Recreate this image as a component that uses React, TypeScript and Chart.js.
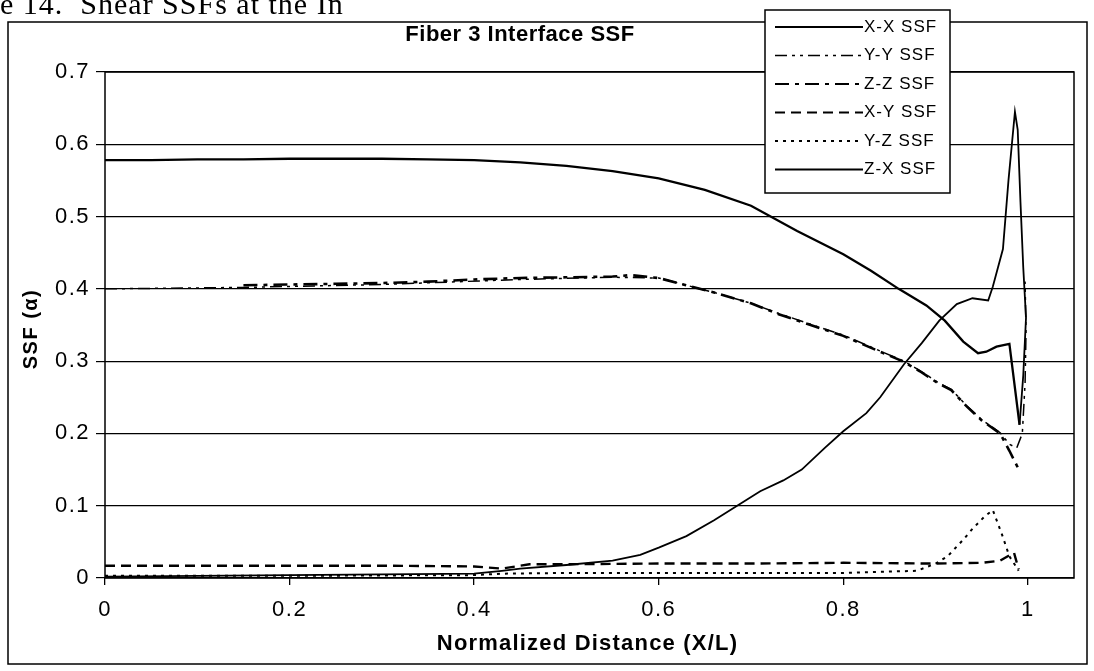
import React, { useEffect, useRef } from 'react';
import { Chart, registerables } from 'chart.js';

Chart.register(...registerables);

// ---- data ----
const seriesNames = ['X-X SSF', 'Y-Y SSF', 'Z-Z SSF', 'X-Y SSF', 'Y-Z SSF', 'Z-X SSF'];
const xTickValues = [0, 0.2, 0.4, 0.6, 0.8, 1];

const xxX = [0, 0.05, 0.1, 0.15, 0.2, 0.25, 0.3, 0.35, 0.4, 0.45, 0.5, 0.55, 0.6, 0.65, 0.7, 0.75, 0.8, 0.83, 0.86, 0.89, 0.91, 0.93, 0.946, 0.955, 0.966, 0.98, 0.991];
const xxY = [0.578, 0.578, 0.579, 0.579, 0.58, 0.58, 0.58, 0.579, 0.578, 0.575, 0.57, 0.563, 0.553, 0.537, 0.515, 0.48, 0.448, 0.425, 0.4, 0.377, 0.356, 0.327, 0.311, 0.313, 0.32, 0.324, 0.212];

const yyX = [0, 0.15, 0.3, 0.45, 0.55, 0.6, 0.63, 0.66, 0.7, 0.73, 0.767, 0.8, 0.84, 0.864, 0.883, 0.902, 0.917, 0.934, 0.95, 0.97, 0.98, 0.988, 0.994, 0.997, 0.998, 0.997];
const yyY = [0.4, 0.402, 0.406, 0.413, 0.416, 0.415, 0.405, 0.395, 0.38, 0.366, 0.35, 0.336, 0.314, 0.301, 0.287, 0.271, 0.261, 0.238, 0.219, 0.201, 0.185, 0.18, 0.2, 0.27, 0.34, 0.41];

const zzX = [0.15, 0.2, 0.25, 0.3, 0.35, 0.4, 0.45, 0.5, 0.55, 0.57, 0.6, 0.63, 0.66, 0.7, 0.73, 0.767, 0.8, 0.84, 0.864, 0.883, 0.902, 0.917, 0.934, 0.95, 0.97, 0.98, 0.991];
const zzY = [0.405, 0.406, 0.407, 0.408, 0.41, 0.413, 0.415, 0.416, 0.417, 0.419, 0.415, 0.405, 0.395, 0.38, 0.365, 0.349, 0.335, 0.313, 0.3, 0.286, 0.27, 0.26, 0.237, 0.218, 0.2, 0.176, 0.148];

const xyX = [0, 0.1, 0.2, 0.3, 0.4, 0.43, 0.46, 0.5, 0.6, 0.7, 0.8, 0.9, 0.95, 0.97, 0.985, 0.99];
const xyY = [0.017, 0.017, 0.017, 0.017, 0.016, 0.013, 0.019, 0.019, 0.02, 0.02, 0.021, 0.02, 0.021, 0.024, 0.035, 0.012];

const yzX = [0, 0.2, 0.4, 0.43, 0.5, 0.6, 0.7, 0.8, 0.88, 0.9, 0.913, 0.93, 0.94, 0.953, 0.962, 0.972, 0.98, 0.99];
const yzY = [0.003, 0.003, 0.004, 0.006, 0.007, 0.007, 0.007, 0.007, 0.01, 0.02, 0.03, 0.053, 0.068, 0.085, 0.094, 0.06, 0.03, 0.01];

const zxX = [0, 0.1, 0.2, 0.3, 0.4, 0.43, 0.45, 0.5, 0.55, 0.58, 0.6, 0.63, 0.66, 0.685, 0.71, 0.735, 0.755, 0.78, 0.8, 0.825, 0.84, 0.866, 0.885, 0.904, 0.923, 0.94, 0.957, 0.962, 0.973, 0.979, 0.986, 0.989, 0.992, 0.995, 0.998, 0.995, 0.991];
const zxY = [0.002, 0.003, 0.004, 0.005, 0.006, 0.01, 0.013, 0.018, 0.024, 0.032, 0.042, 0.058, 0.08, 0.1, 0.12, 0.135, 0.15, 0.18, 0.203, 0.228, 0.25, 0.296, 0.325, 0.356, 0.379, 0.387, 0.384, 0.403, 0.455, 0.55, 0.645, 0.62, 0.52, 0.43, 0.36, 0.28, 0.212];

const FONT = "'Liberation Sans', Arial, sans-serif";

function pts(xs: number[], ys: number[]) {
  return xs.map((x, i) => ({ x, y: ys[i] }));
}

function spaced(ctx: any, px: number) {
  try {
    ctx.letterSpacing = px + 'px';
  } catch (e) {
    /* ignore */
  }
}

const decor = {
  id: 'decor',
  beforeDraw(c: any) {
    const ctx = c.ctx;
    ctx.save();
    ctx.fillStyle = '#fff';
    ctx.fillRect(0, 0, c.width, c.height);
    ctx.restore();
    spaced(ctx, 1.5);
  },
  afterDraw(c: any) {
    const ctx = c.ctx;
    const a = c.chartArea;
    spaced(ctx, 0);
    ctx.save();
    ctx.strokeStyle = '#000';
    ctx.lineWidth = 1.5;
    ctx.setLineDash([]);
    ctx.strokeRect(a.left, a.top, a.right - a.left, a.bottom - a.top);
    // outer chart border
    ctx.strokeRect(8, 22, 1079, 642);
    ctx.fillStyle = '#000';
    // caption (cut at top)
    ctx.font = "30px 'Liberation Serif', serif";
    spaced(ctx, 1);
    ctx.textAlign = 'left';
    ctx.textBaseline = 'alphabetic';
    ctx.fillText('e 14.  Shear SSFs at the In', 0, 14);
    // title
    ctx.font = `bold 22px ${FONT}`;
    spaced(ctx, 0.5);
    ctx.textAlign = 'center';
    ctx.textBaseline = 'middle';
    ctx.fillText('Fiber 3 Interface SSF', 520, 35);
    // x-axis title
    ctx.font = `bold 22px ${FONT}`;
    spaced(ctx, 1.2);
    ctx.fillText('Normalized Distance (X/L)', (a.left + a.right) / 2 - 2, 644);
    // y-axis title
    ctx.save();
    ctx.translate(31, (a.top + a.bottom) / 2 + 4);
    ctx.rotate(-Math.PI / 2);
    ctx.font = `bold 20px ${FONT}`;
    spaced(ctx, 1.5);
    ctx.fillText('SSF (α)', 0, 0);
    ctx.restore();
    // legend
    const lx = 765, ly = 10, lw = 185, lh = 183;
    ctx.fillStyle = '#fff';
    ctx.fillRect(lx, ly, lw, lh);
    ctx.lineWidth = 1.5;
    ctx.strokeRect(lx, ly, lw, lh);
    ctx.font = `17px ${FONT}`;
    spaced(ctx, 1);
    ctx.textAlign = 'left';
    c.data.datasets.forEach((ds: any, i: number) => {
      const y = ly + 17 + i * 28.5;
      ctx.strokeStyle = '#000';
      ctx.lineWidth = Math.min(ds.borderWidth, 2.2);
      ctx.setLineDash(ds.borderDash || []);
      ctx.beginPath();
      ctx.moveTo(lx + 10, y);
      ctx.lineTo(lx + 98, y);
      ctx.stroke();
      ctx.setLineDash([]);
      ctx.fillStyle = '#000';
      ctx.fillText(ds.label, lx + 99, y);
    });
    ctx.restore();
    spaced(ctx, 0);
  },
};

export default function App() {
  const ref = useRef<HTMLCanvasElement>(null);
  useEffect(() => {
    const canvas = ref.current!;
    const mk = (i: number, xs: number[], ys: number[], width: number, dash: number[]) => ({
      label: seriesNames[i],
      data: pts(xs, ys),
      showLine: true,
      pointRadius: 0,
      borderColor: '#000',
      backgroundColor: '#000',
      borderWidth: width,
      borderDash: dash,
      fill: false,
      tension: 0,
    });
    const chart = new Chart(canvas, {
      type: 'scatter',
      data: {
        datasets: [
          mk(0, xxX, xxY, 2.3, []),
          mk(1, yyX, yyY, 1.5, [12, 5, 3, 5, 3, 5]),
          mk(2, zzX, zzY, 2.6, [14, 6, 4, 6]),
          mk(3, xyX, xyY, 2.4, [10, 6]),
          mk(4, yzX, yzY, 2, [3, 5]),
          mk(5, zxX, zxY, 1.8, []),
        ],
      },
      options: {
        animation: false,
        responsive: false,
        layout: { padding: { left: 0, top: 72, right: 20, bottom: 0 } },
        plugins: {
          legend: { display: false },
          title: { display: false },
          tooltip: { enabled: false },
        },
        scales: {
          x: {
            type: 'linear',
            min: 0,
            max: 1.05,
            afterBuildTicks: (s: any) => {
              s.ticks = xTickValues.map((v) => ({ value: v }));
            },
            afterFit: (s: any) => {
              s.height = 671 - 578;
            },
            grid: { drawOnChartArea: false, drawTicks: true, tickLength: 7, color: '#000', lineWidth: 1.3 },
            border: { display: false },
            ticks: {
              color: '#000',
              font: { family: FONT, size: 22 },
              padding: 12,
              maxRotation: 0,
              callback: (v: any) => String(Number(Number(v).toFixed(2))),
            },
          },
          y: {
            type: 'linear',
            min: 0,
            max: 0.7,
            afterFit: (s: any) => {
              s.width = 105;
            },
            grid: { color: '#000', lineWidth: 1.2, tickLength: 9, drawTicks: true },
            border: { display: false },
            ticks: {
              stepSize: 0.1,
              color: '#000',
              font: { family: FONT, size: 22 },
              padding: 6,
              callback: (v: any) => String(Number(Number(v).toFixed(2))),
            },
          },
        },
      },
      plugins: [decor],
    } as any);
    return () => chart.destroy();
  }, []);
  return (
    <div style={{ position: 'absolute', left: 0, top: 0, width: 1094, height: 671, background: '#fff' }}>
      <canvas ref={ref} width={1094} height={671} style={{ display: 'block' }} />
    </div>
  );
}
